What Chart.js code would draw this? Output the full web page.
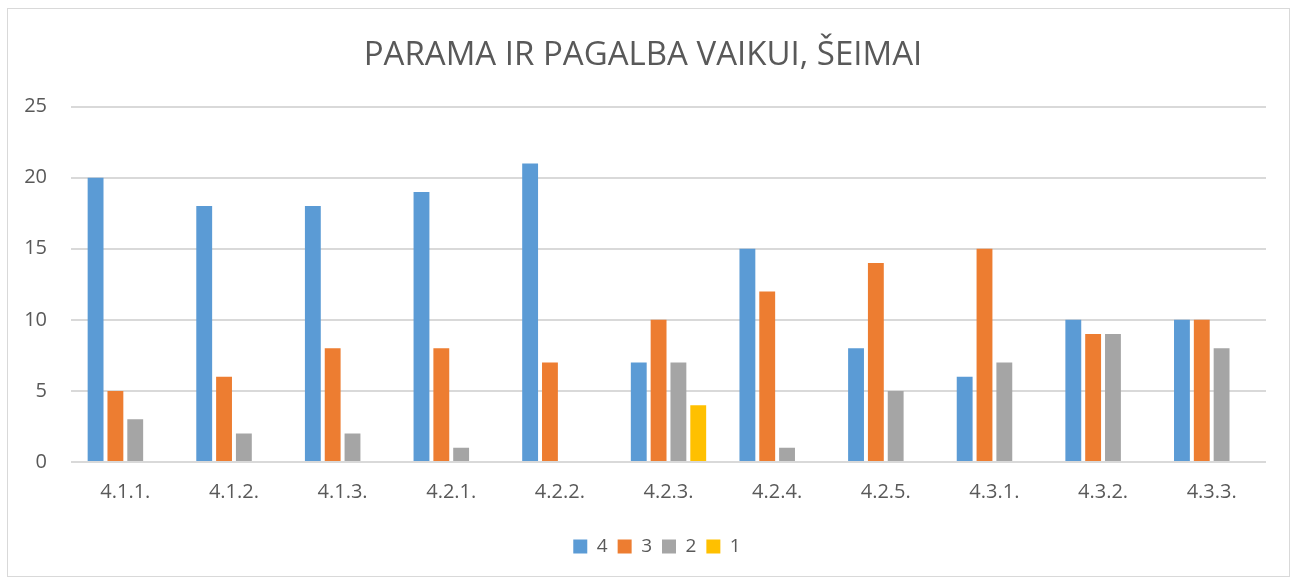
<!DOCTYPE html>
<html>
<head>
<meta charset="utf-8">
<script src="https://cdn.jsdelivr.net/npm/chart.js@4"></script>
<style>
  html, body { margin: 0; padding: 0; background: #fff; }
  #wrap { position: absolute; left: 0; top: 0; width: 1295px; height: 580px; }
  #frame { position: absolute; left: 7px; top: 8px; width: 1283px; height: 569px; border: 1px solid #d9d9d9; box-sizing: border-box; pointer-events: none; }
</style>
</head>
<body>
<div id="wrap">
  <canvas id="grafico" width="1295" height="580"></canvas>
  <div id="frame"></div>
</div>
<script>
const categorias = ["4.1.1.", "4.1.2.", "4.1.3.", "4.2.1.", "4.2.2.", "4.2.3.", "4.2.4.", "4.2.5.", "4.3.1.", "4.3.2.", "4.3.3."];
const serie4 = [20, 18, 18, 19, 21, 7, 15, 8, 6, 10, 10];
const serie3 = [5, 6, 8, 8, 7, 10, 12, 14, 15, 9, 10];
const serie2 = [3, 2, 2, 1, 0, 7, 1, 5, 7, 9, 8];
const serie1 = [0, 0, 0, 0, 0, 4, 0, 0, 0, 0, 0];
const yTicks = [0, 5, 10, 15, 20, 25];

const gris = "#595959";
const fuente = "'Open Sans', 'Liberation Sans', sans-serif";

// la leyenda del original queda algo a la derecha del centro
const moverLeyenda = {
  id: "moverLeyenda",
  afterLayout(chart) {
    chart.legend.left += 14;
    chart.legend.right += 14;
  }
};

const ctx = document.getElementById("grafico").getContext("2d");
new Chart(ctx, {
  type: "bar",
  data: {
    labels: categorias,
    datasets: [
      { label: "4", data: serie4, backgroundColor: "#5b9bd5" },
      { label: "3", data: serie3, backgroundColor: "#ed7d31" },
      { label: "2", data: serie2, backgroundColor: "#a5a5a5" },
      { label: "1", data: serie1, backgroundColor: "#ffc000" }
    ]
  },
  plugins: [moverLeyenda],
  options: {
    responsive: false,
    animation: false,
    devicePixelRatio: 1,
    datasets: { bar: { categoryPercentage: 0.73, barPercentage: 0.8 } },
    layout: { padding: { left: 20, right: 29, top: 36, bottom: 14 } },
    plugins: {
      title: {
        display: true,
        text: "PARAMA IR PAGALBA VAIKUI, ŠEIMAI",
        color: gris,
        font: { family: fuente, size: 33, weight: "normal" },
        padding: { top: 0, bottom: 31 }
      },
      legend: {
        position: "bottom",
        labels: {
          color: gris,
          boxWidth: 14,
          boxHeight: 14,
          padding: 10,
          font: { family: fuente, size: 19 }
        }
      },
      tooltip: { enabled: false }
    },
    scales: {
      x: {
        afterFit: axis => { axis.height = 65; },
        grid: { display: false },
        border: { display: false },
        ticks: { color: gris, font: { family: fuente, size: 20 }, padding: 10 }
      },
      y: {
        min: 0,
        max: 25,
        afterBuildTicks: axis => { axis.ticks = yTicks.map(v => ({ value: v })); },
        afterFit: axis => { axis.width = 51; },
        grid: { color: "#d9d9d9", lineWidth: 2, drawTicks: false },
        border: { display: false },
        ticks: { color: gris, font: { family: fuente, size: 20 }, padding: 24 }
      }
    }
  }
});
</script>
</body>
</html>
